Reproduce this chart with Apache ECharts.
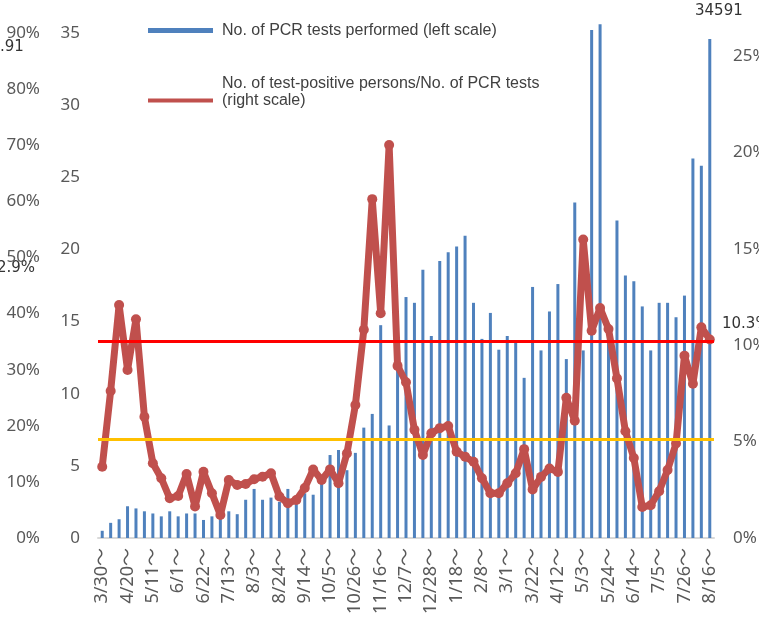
<!DOCTYPE html>
<html>
<head>
<meta charset="utf-8">
<script src="https://cdn.jsdelivr.net/npm/echarts@6/dist/echarts.min.js"></script>
<style>
  html, body { margin: 0; padding: 0; background: #ffffff; }
  #chart { width: 759px; height: 620px; }
</style>
</head>
<body>
<div id="chart"></div>
<script>
// Weekly categories (week starting)
const categories = [
  '3/30','4/6','4/13','4/20','4/27','5/4','5/11','5/18','5/25','6/1','6/8','6/15','6/22','6/29',
  '7/6','7/13','7/20','7/27','8/3','8/10','8/17','8/24','8/31','9/7','9/14','9/21','9/28',
  '10/5','10/12','10/19','10/26','11/2','11/9','11/16','11/23','11/30','12/7','12/14','12/21','12/28',
  '1/4','1/11','1/18','1/25','2/1','2/8','2/15','2/22','3/1','3/8','3/15','3/22','3/29',
  '4/5','4/12','4/19','4/26','5/3','5/10','5/17','5/24','5/31','6/7','6/14','6/21','6/28',
  '7/5','7/12','7/19','7/26','8/2','8/9','8/16'
];

// No. of PCR tests performed (thousands, left scale)
const pcrTests = [
  0.5, 1.05, 1.3, 2.2, 2.05, 1.85, 1.7, 1.5, 1.85, 1.5, 1.7, 1.7, 1.25, 1.5,
  1.7, 1.85, 1.65, 2.65, 3.4, 2.65, 2.8, 2.5, 3.4, 2.8, 3.1, 3.0, 3.8,
  5.75, 6.1, 4.7, 5.9, 7.65, 8.6, 14.75, 7.8, 12.0, 16.7, 16.3, 18.6, 14.0,
  19.2, 19.8, 20.2, 20.95, 16.3, 13.8, 15.6, 13.05, 14.0, 13.6, 11.1, 17.4, 13.0,
  15.7, 17.6, 12.4, 23.25, 13.0, 35.2, 35.6, 14.5, 22.0, 18.2, 17.8, 16.05, 13.0,
  16.3, 16.3, 15.3, 16.8, 26.3, 25.8, 34.591
];

// No. of test-positive persons / No. of PCR tests (%, right scale)
const positiveRate = [
  3.70, 7.63, 12.09, 8.72, 11.35, 6.29, 3.88, 3.10, 2.06, 2.18, 3.32, 1.63, 3.44, 2.32,
  1.19, 3.01, 2.75, 2.80, 3.05, 3.18, 3.36, 2.15, 1.80, 1.97, 2.59, 3.55, 3.01,
  3.56, 2.84, 4.39, 6.90, 10.80, 17.58, 11.66, 20.39, 8.93, 8.08, 5.61, 4.31, 5.43,
  5.70, 5.81, 4.48, 4.22, 3.96, 3.10, 2.32, 2.32, 2.84, 3.36, 4.61, 2.52, 3.17,
  3.61, 3.43, 7.27, 6.08, 15.49, 10.75, 11.93, 10.84, 8.28, 5.54, 4.15, 1.61, 1.70,
  2.43, 3.53, 4.90, 9.46, 8.00, 10.93, 10.3
];

// Reference levels on the right scale (%)
const redLevel = 10.2;
const orangeLevel = 5.1;

// Axis ranges
const leftTicks = { min: 0, max: 35, interval: 5 };
const rightTicks = { min: 0, max: 26.2, interval: 5 };
const outerTicks = { min: 0, max: 90, interval: 10 };

// Overlaid annotation texts
const noteTopLeft = '.91';
const noteMidLeft = '2.9%';

const barName = 'No. of PCR tests performed (left scale)';
const lineName = 'No. of test-positive persons/No. of PCR tests (right scale)';

const axisFont = { fontFamily: 'Noto Sans', fontSize: 17, color: '#595959' };
const noteFont = '15px "DejaVu Sans"';
const legendText = { fontFamily: 'Liberation Sans', fontSize: 16, lineHeight: 17, color: '#404040', padding: [0, 0, 0, 4] };

const chart = echarts.init(document.getElementById('chart'), null, { renderer: 'canvas' });

chart.setOption({
  animation: false,
  backgroundColor: '#ffffff',
  grid: { left: 98, right: 45, top: 33, bottom: 82, containLabel: false, outerBoundsMode: 'none' },
  legend: [
    {
      data: [{ name: barName, icon: 'rect' }],
      left: 143, top: 17,
      itemWidth: 65, itemHeight: 5,
      selectedMode: false,
      textStyle: legendText
    },
    {
      data: [{ name: lineName, icon: 'rect' }],
      left: 143, top: 70,
      itemWidth: 65, itemHeight: 4,
      selectedMode: false,
      formatter: n => n.replace(' (right', '\n(right') + '\n ',
      textStyle: legendText
    }
  ],
  xAxis: {
    type: 'category',
    data: categories,
    boundaryGap: true,
    axisLine: { show: true, lineStyle: { color: '#d9d9d9', width: 2 } },
    axisTick: { show: false },
    axisLabel: {
      interval: 2,
      rotate: 90,
      margin: 10,
      fontFamily: 'Noto Sans, Noto Sans CJK JP',
      fontSize: 18,
      color: '#595959',
      formatter: v => v + '〜'
    },
    splitLine: { show: false }
  },
  yAxis: [
    {
      type: 'value', position: 'left',
      min: leftTicks.min, max: leftTicks.max, interval: leftTicks.interval,
      axisLine: { show: false }, axisTick: { show: false }, splitLine: { show: false },
      axisLabel: Object.assign({ margin: 18 }, axisFont)
    },
    {
      type: 'value', position: 'right',
      min: rightTicks.min, max: rightTicks.max, interval: rightTicks.interval,
      axisLine: { show: false }, axisTick: { show: false }, splitLine: { show: false },
      axisLabel: Object.assign({
        margin: 19,
        formatter: v => (Math.abs(v % 5) < 1e-9 ? v + '%' : '')
      }, axisFont)
    },
    {
      type: 'value', position: 'left', offset: 40,
      min: outerTicks.min, max: outerTicks.max, interval: outerTicks.interval,
      axisLine: { show: false }, axisTick: { show: false }, splitLine: { show: false },
      axisLabel: Object.assign({ margin: 18, formatter: v => v + '%' }, axisFont)
    }
  ],
  series: [
    {
      name: barName,
      type: 'bar',
      yAxisIndex: 0,
      data: pcrTests,
      barWidth: 3,
      clip: false,
      itemStyle: { color: '#4f81bd' },
      z: 2
    },
    {
      name: lineName,
      type: 'line',
      yAxisIndex: 1,
      data: positiveRate,
      showAllSymbol: true,
      symbol: 'circle',
      symbolSize: 10,
      itemStyle: { color: '#c0504d' },
      lineStyle: { color: '#c0504d', width: 7 },
      z: 3
    },
    {
      name: 'levels',
      type: 'line',
      yAxisIndex: 1,
      data: [],
      z: 5,
      markLine: {
        silent: true,
        symbol: ['none', 'none'],
        label: { show: false },
        data: [
          { yAxis: redLevel, lineStyle: { color: '#ff0000', width: 3, type: 'solid' } },
          { yAxis: orangeLevel, lineStyle: { color: '#ffc000', width: 3, type: 'solid' } }
        ]
      }
    }
  ],
  graphic: [
    { type: 'text', left: 695, top: 4, style: { text: String(Math.round(pcrTests[pcrTests.length - 1] * 1000)), font: noteFont, fill: '#333333' } },
    { type: 'text', left: 722, top: 317, style: { text: positiveRate[positiveRate.length - 1].toFixed(1) + '%', font: noteFont, fill: '#333333' } },
    { type: 'text', left: 0, top: 40, style: { text: noteTopLeft, font: noteFont, fill: '#333333' } },
    { type: 'text', left: -3, top: 261, style: { text: noteMidLeft, font: noteFont, fill: '#333333' } }
  ]
});
</script>
</body>
</html>
